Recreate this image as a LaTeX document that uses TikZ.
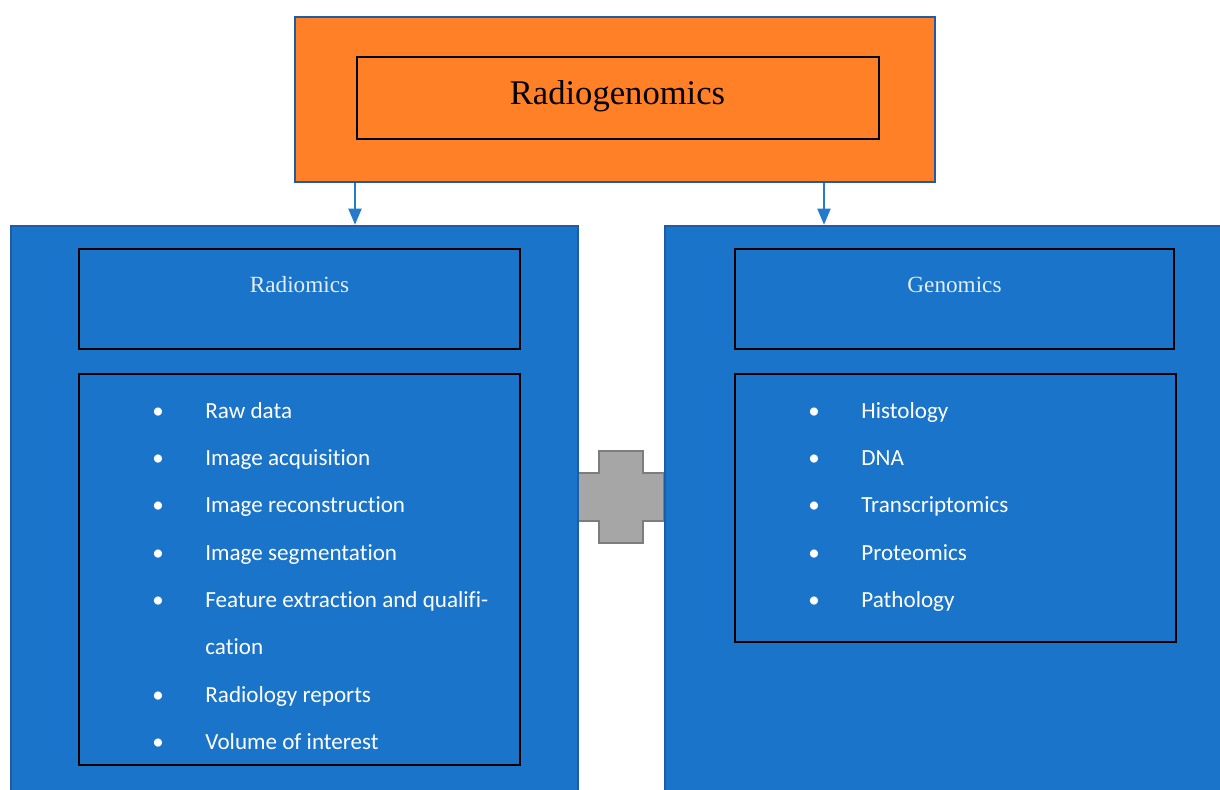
\documentclass[tikz,border=0pt]{standalone}
\usepackage{fontspec}
\setmainfont{Liberation Serif}
\newfontfamily\listfont[Ligatures=NoCommon]{Carlito}
\usetikzlibrary{arrows.meta}
\definecolor{rgOrange}{RGB}{255,128,39}
\definecolor{rgBlue}{RGB}{25,116,202}
\definecolor{rgEdge}{RGB}{30,92,165}
\definecolor{rgArrow}{RGB}{38,122,204}
\definecolor{rgGrey}{RGB}{166,166,166}
\definecolor{rgGreyEdge}{RGB}{125,125,125}
\definecolor{rgHead}{RGB}{228,237,248}
\begin{document}
\begin{tikzpicture}
[
 x=0.5pt, y=-0.5pt,
 inner sep=0pt,
 ORANGEOUT/.style={rectangle, draw=rgEdge, fill=rgOrange, line width=1.3pt},
 ORANGEIN/.style={rectangle, draw=black, fill=rgOrange, line width=0.8pt},
 BLUEOUT/.style={rectangle, draw=rgEdge, fill=rgBlue, line width=1.3pt},
 BLUEIN/.style={rectangle, draw=black, fill=rgBlue, line width=0.8pt},
 HEAD/.style={anchor=base, text=rgHead, font=\fontsize{11.6}{14}\selectfont},
 ITEM/.style={anchor=base west, text=white, font=\listfont\fontsize{11.55}{14}\selectfont},
 BULLET/.style={anchor=base, text=white, font=\listfont\fontsize{11.5}{14}\selectfont},
 ARROW/.style={draw=rgArrow, line width=1pt, -{Triangle[width=6.5pt,length=8pt]}},
 PLUS/.style={draw=rgGreyEdge, fill=rgGrey, line width=1.2pt},
 ]
%
\clip (0,0) rectangle (1220,790);
%
\node [ORANGEOUT, minimum width=320pt, minimum height=82.5pt] (rg)   at (615,99.5) {};
\node [ORANGEIN,  minimum width=261pt, minimum height=41pt]   (rgIn) at (618,98) {};
\node [anchor=base, font=\fontsize{17.3}{20}\selectfont] (rgText) at (617.5,105) {Radiogenomics};
%
% the plus between the two columns
\draw [PLUS] (599,451) -- (643,451) -- (643,473) -- (664,473) -- (664,521) -- (643,521)
      -- (643,543) -- (599,543) -- (599,521) -- (578,521) -- (578,473) -- (599,473) -- cycle;
%
\node [BLUEOUT, minimum width=283.5pt, minimum height=300pt] (radBox) at (294.5,526) {};
\node [BLUEOUT, minimum width=290pt,   minimum height=300pt] (genBox) at (955,526) {};
%
\node [BLUEIN, minimum width=220.5pt, minimum height=50pt]   (radHead) at (299.5,299) {};
\node [BLUEIN, minimum width=220.5pt, minimum height=195.5pt] (radList) at (299.5,569.5) {};
\node [BLUEIN, minimum width=219.5pt, minimum height=50pt]   (genHead) at (954.5,299) {};
\node [BLUEIN, minimum width=220.5pt, minimum height=134pt]  (genList) at (955.5,508) {};
%
\node [HEAD] (radTitle) at (299.5,293) {Radiomics};
\node [HEAD] (genTitle) at (954.5,293) {Genomics};
%
\coordinate (tipL) at (355,0);
\coordinate (tipR) at (824,0);
\draw [ARROW] (rg.south -| tipL) -- (radBox.north -| tipL);
\draw [ARROW] (rg.south -| tipR) -- (genBox.north -| tipR);
%
\foreach \y/\txt in {410/Raw data, 457/Image acquisition, 504/Image reconstruction,
                     551/Image segmentation, 598/Feature extraction and qualifi-,
                     693/Radiology reports, 740/Volume of interest}
   {
     \node [BULLET] (rb\y) at (158,\y+9) {\textbullet};
     \node [ITEM]   (ri\y) at (205,\y+9) {\txt};
   }
\node [ITEM] (ri645) at (205,654) {cation};
%
\foreach \y/\txt in {410/Histology, 457/DNA, 504/Transcriptomics, 551/Proteomics, 598/Pathology}
   {
     \node [BULLET] (gb\y) at (814,\y+9) {\textbullet};
     \node [ITEM]   (gi\y) at (861,\y+9) {\txt};
   }
%
\end{tikzpicture}
\end{document}
